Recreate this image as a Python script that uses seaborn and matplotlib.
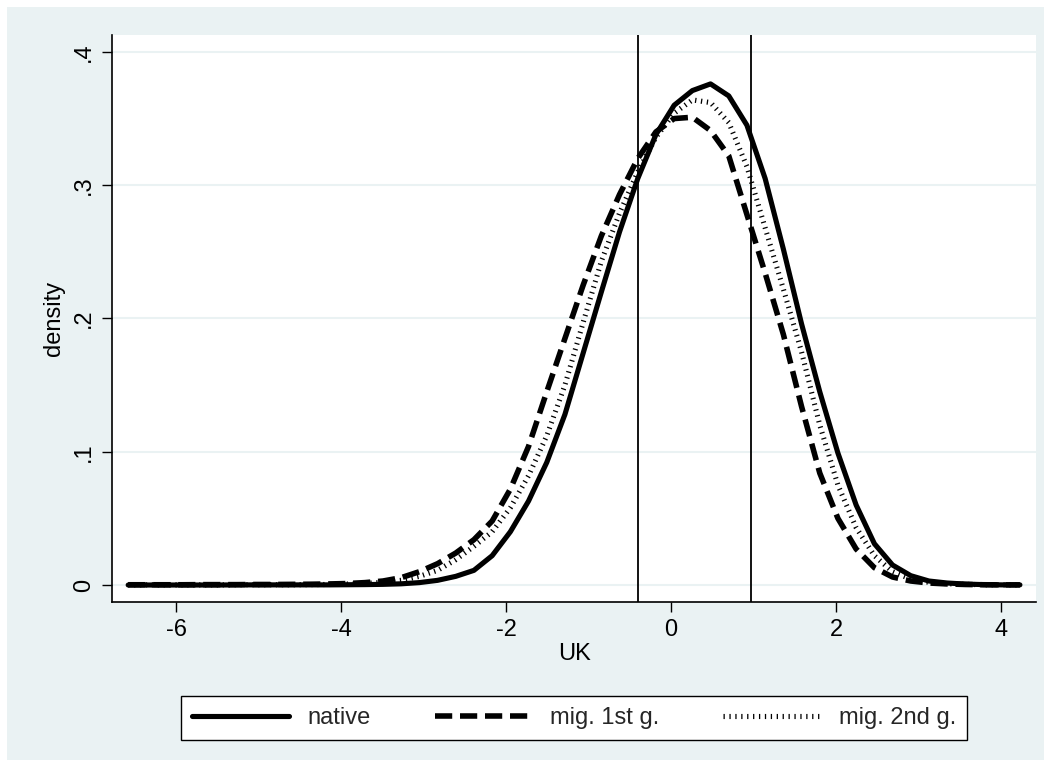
import matplotlib
matplotlib.use("Agg")
import matplotlib.pyplot as plt
import matplotlib.patches as patches
import pandas as pd
import seaborn as sns

# kdensity evaluation grid (50 points) and densities
grid = [-6.580, -6.359, -6.139, -5.918, -5.698, -5.477, -5.256, -5.036, -4.815, -4.595,
        -4.374, -4.153, -3.933, -3.712, -3.492, -3.271, -3.050, -2.830, -2.609, -2.389,
        -2.168, -1.947, -1.727, -1.506, -1.286, -1.065, -0.844, -0.624, -0.403, -0.183,
        0.038, 0.259, 0.479, 0.700, 0.920, 1.141, 1.362, 1.582, 1.803, 2.023,
        2.244, 2.465, 2.685, 2.906, 3.126, 3.347, 3.568, 3.788, 4.009, 4.229]

native = [0.0000, 0.0000, 0.0000, 0.0000, 0.0000, 0.0000, 0.0001, 0.0001, 0.0001, 0.0001,
          0.0001, 0.0001, 0.0002, 0.0003, 0.0005, 0.0009, 0.0018, 0.0035, 0.0065, 0.011,
          0.022, 0.040, 0.063, 0.092, 0.128, 0.174, 0.220, 0.265, 0.305, 0.338,
          0.360, 0.371, 0.376, 0.367, 0.345, 0.305, 0.252, 0.196, 0.145, 0.099,
          0.060, 0.031, 0.015, 0.007, 0.003, 0.0015, 0.0007, 0.0003, 0.0001, 0.0001]

mig1 = [0.0002, 0.0002, 0.0002, 0.0002, 0.0003, 0.0003, 0.0003, 0.0004, 0.0004, 0.0005,
        0.0006, 0.0008, 0.0011, 0.0018, 0.003, 0.0055, 0.010, 0.016, 0.024, 0.034,
        0.048, 0.072, 0.104, 0.145, 0.185, 0.225, 0.262, 0.293, 0.320, 0.340,
        0.350, 0.351, 0.341, 0.322, 0.278, 0.234, 0.188, 0.134, 0.084, 0.050,
        0.027, 0.013, 0.006, 0.003, 0.0015, 0.0008, 0.0004, 0.0002, 0.0001, 0.0001]

mig2 = [0.0001, 0.0001, 0.0001, 0.0001, 0.0001, 0.0001, 0.0002, 0.0002, 0.0002, 0.0002,
        0.0003, 0.0004, 0.0007, 0.0012, 0.002, 0.0035, 0.0065, 0.011, 0.019, 0.029,
        0.040, 0.058, 0.082, 0.112, 0.150, 0.197, 0.243, 0.279, 0.310, 0.336,
        0.354, 0.364, 0.362, 0.347, 0.314, 0.268, 0.222, 0.175, 0.120, 0.075,
        0.043, 0.022, 0.010, 0.0045, 0.002, 0.001, 0.0005, 0.0002, 0.0001, 0.0001]

series_labels = ['native', 'mig. 1st g.', 'mig. 2nd g.']
cutoffs = [-0.40, 0.965]
x_ticks = [-6, -4, -2, 0, 2, 4]
y_ticks = [0, 0.1, 0.2, 0.3, 0.4]
y_tick_labels = ['0', '.1', '.2', '.3', '.4']

W, H = 1051, 767
bg = '#EAF2F3'

sns.set_theme(style='white')
plt.rcParams['font.family'] = ['Liberation Sans', 'DejaVu Sans']

fig = plt.figure(figsize=(W / 100, H / 100), dpi=100, facecolor='white')
fig.add_artist(patches.Rectangle((7 / W, 7 / H), (W - 14) / W, (H - 14) / H,
                                 transform=fig.transFigure, facecolor=bg,
                                 edgecolor='none', zorder=-10))
ax = fig.add_axes([112 / W, 1 - 602 / H, (1036 - 112) / W, (602 - 35) / H])
ax.set_facecolor('white')

df = pd.DataFrame({'x': grid, 'native': native, 'mig1': mig1, 'mig2': mig2})

lw = 3.7
sns.lineplot(data=df, x='x', y='native', ax=ax, color='black', lw=lw,
             label=series_labels[0], solid_capstyle='round')
sns.lineplot(data=df, x='x', y='mig1', ax=ax, color='black', lw=lw + 0.3,
             linestyle=(0, (3.1, 1.4)), dash_capstyle='butt', label=series_labels[1])
sns.lineplot(data=df, x='x', y='mig2', ax=ax, color='black', lw=lw,
             linestyle=(0, (0.25, 0.9)), dash_capstyle='butt', label=series_labels[2])

for c in cutoffs:
    ax.axvline(c, color='black', lw=1.3, zorder=1)

ax.set_xlim(-6.776, 4.424)
ax.set_ylim(-0.01275, 0.4127)
ax.set_xticks(x_ticks)
ax.set_xticklabels([str(t) for t in x_ticks])
ax.set_yticks(y_ticks)
ax.set_yticklabels(y_tick_labels, rotation=90, va='center')
ax.yaxis.grid(True, color=bg, lw=1.5)
ax.xaxis.grid(False)
ax.set_axisbelow(True)

for s in ['top', 'right']:
    ax.spines[s].set_visible(False)
for s in ['left', 'bottom']:
    ax.spines[s].set_color('black')
    ax.spines[s].set_linewidth(1.2)

ax.tick_params(axis='both', which='major', direction='out', length=7, width=1,
               color='black', labelsize=17, labelcolor='black', pad=5,
               bottom=True, left=True)
ax.set_xlabel('UK', fontsize=17, color='black', labelpad=2)
ax.set_ylabel('density', fontsize=17, color='black', labelpad=6)

handles, labels = ax.get_legend_handles_labels()
ax.get_legend().remove()
leg = fig.legend(handles, labels, loc='center', bbox_to_anchor=(574 / W, 1 - 718 / H),
                 ncol=3, frameon=True, fancybox=False, edgecolor='black', framealpha=1,
                 fontsize=17, handlelength=4.1, handletextpad=0.8, columnspacing=2.7,
                 borderpad=0.45)
leg.get_frame().set_linewidth(1.0)

fig.savefig('out.png', dpi=100, facecolor=fig.get_facecolor())
